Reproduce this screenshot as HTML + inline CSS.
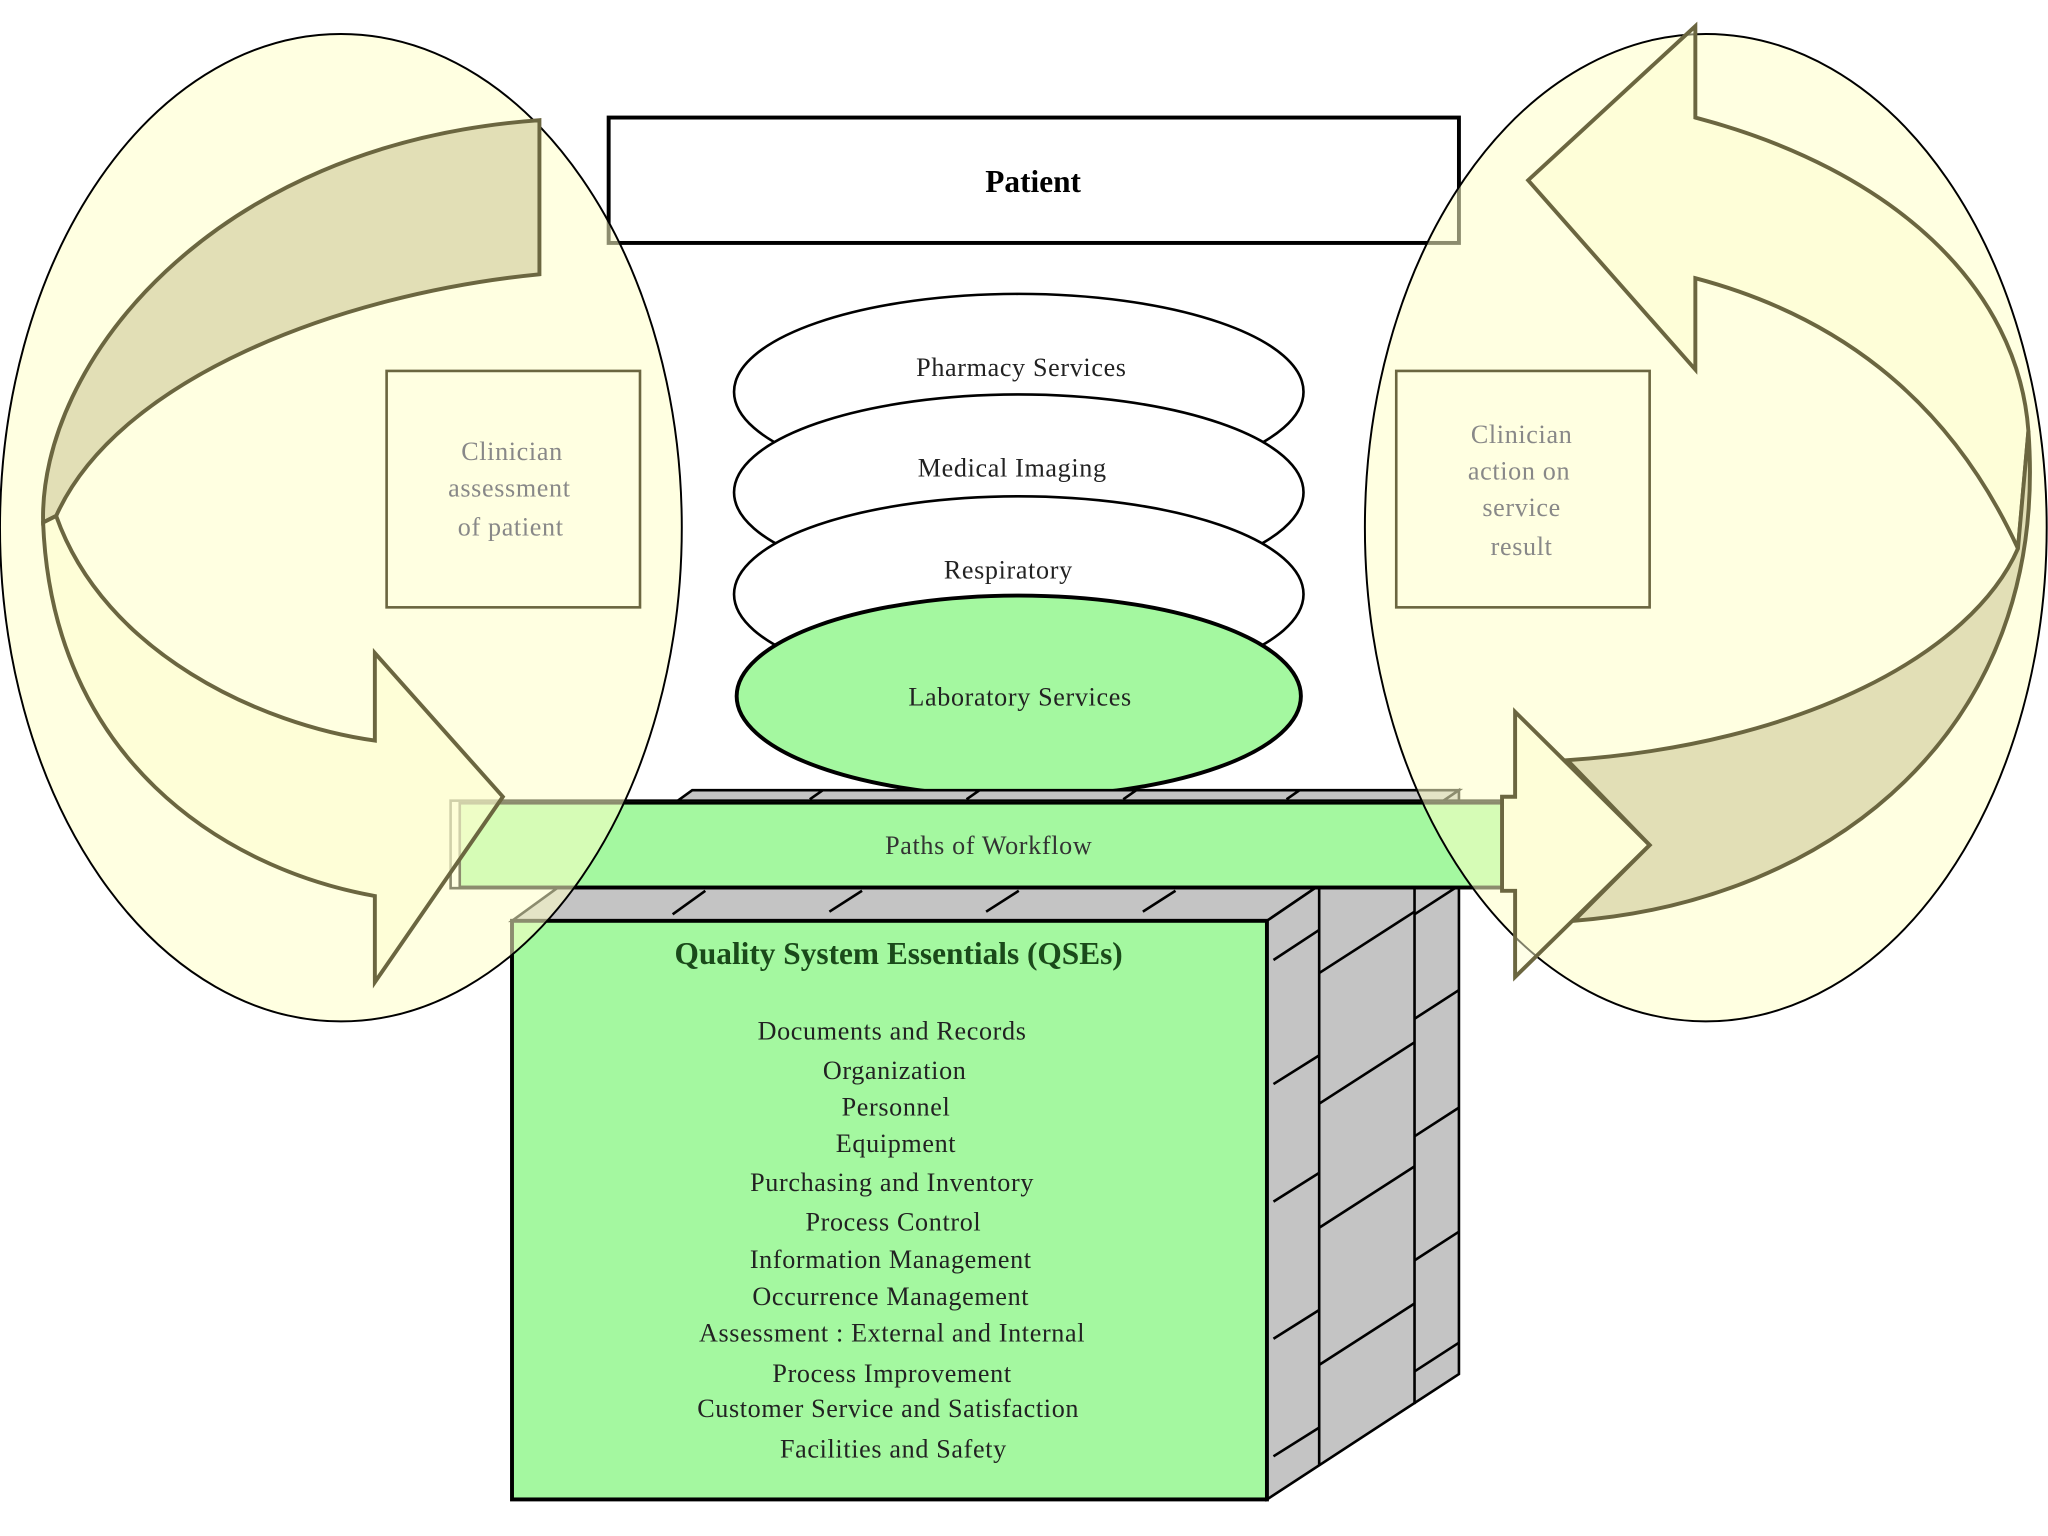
<!DOCTYPE html>
<html><head><meta charset="utf-8"><style>html,body{margin:0;padding:0;background:#fff}svg{display:block}</style></head><body>
<svg width="2048" height="1536" viewBox="0 0 1568 1176" preserveAspectRatio="none" xmlns="http://www.w3.org/2000/svg" font-family="'Liberation Serif', serif">
<rect width="1568" height="1176" fill="#fff"/>
<rect x="466" y="90" width="651" height="96" fill="#fff" stroke="#000" stroke-width="3"/>
<text x="791" y="147" font-size="24" font-weight="bold" text-anchor="middle">Patient</text>
<g stroke="#000" stroke-width="2">
<ellipse cx="780" cy="300" rx="218" ry="75" fill="#fff"/>
<ellipse cx="780" cy="377" rx="218" ry="75" fill="#fff"/>
<ellipse cx="780" cy="455" rx="218" ry="75" fill="#fff"/>
<ellipse cx="780" cy="533" rx="216" ry="77" fill="#a4f8a0" stroke-width="3"/>
</g>
<g font-size="20" text-anchor="middle" fill="#222" letter-spacing="0.5">
<text x="782" y="288">Pharmacy Services</text>
<text x="775" y="365">Medical Imaging</text>
<text x="772" y="443">Respiratory</text>
<text x="781" y="540">Laboratory Services</text>
</g>
<polygon points="392,705 970,705 1117,605 530,605" fill="#c4c4c4" stroke="#000" stroke-width="2"/>
<polygon points="970,705 1117,605 1117,1052 970,1148" fill="#c4c4c4" stroke="#000" stroke-width="2"/>
<g stroke="#000" stroke-width="2">
<line x1="1010" y1="680" x2="1010" y2="1122"/><line x1="1083" y1="630" x2="1083" y2="1075"/>
<line x1="975" y1="735" x2="1010" y2="712"/><line x1="1010" y1="745" x2="1083" y2="698"/><line x1="1083" y1="700" x2="1117" y2="678"/>
<line x1="975" y1="830" x2="1010" y2="808"/><line x1="1010" y1="845" x2="1083" y2="798"/><line x1="1083" y1="780" x2="1117" y2="758"/>
<line x1="975" y1="920" x2="1010" y2="898"/><line x1="1010" y1="940" x2="1083" y2="893"/><line x1="1083" y1="870" x2="1117" y2="848"/>
<line x1="975" y1="1025" x2="1010" y2="1003"/><line x1="1010" y1="1045" x2="1083" y2="998"/><line x1="1083" y1="965" x2="1117" y2="943"/>
<line x1="975" y1="1115" x2="1010" y2="1093"/><line x1="1083" y1="1050" x2="1117" y2="1028"/>
<line x1="515" y1="700" x2="540" y2="682"/><line x1="635" y1="698" x2="660" y2="682"/><line x1="755" y1="698" x2="780" y2="682"/><line x1="875" y1="698" x2="900" y2="682"/>
<line x1="620" y1="612" x2="630" y2="605"/><line x1="740" y1="612" x2="750" y2="605"/><line x1="860" y1="612" x2="870" y2="605"/><line x1="985" y1="612" x2="995" y2="605"/>
</g>
<rect x="392" y="705" width="578" height="443" fill="#a4f8a0" stroke="#000" stroke-width="3"/>
<text x="688" y="738" font-size="24" font-weight="bold" text-anchor="middle" fill="#1a4a1a">Quality System Essentials  (QSEs)</text>
<g font-size="20" text-anchor="middle" fill="#222" letter-spacing="0.5">
<text x="683" y="796">Documents and Records</text>
<text x="685" y="826">Organization</text>
<text x="686" y="854">Personnel</text>
<text x="686" y="882">Equipment</text>
<text x="683" y="912">Purchasing and Inventory</text>
<text x="684" y="942">Process Control</text>
<text x="682" y="971">Information Management</text>
<text x="682" y="999">Occurrence Management</text>
<text x="683" y="1027">Assessment : External and Internal</text>
<text x="683" y="1058">Process Improvement</text>
<text x="680" y="1085">Customer Service and Satisfaction</text>
<text x="684" y="1116">Facilities and Safety</text>
</g>
<rect x="345" y="613" width="805" height="67" fill="#fff" stroke="#000" stroke-width="2"/>
<rect x="352" y="615" width="798" height="64" fill="#a4f8a0" stroke="#000" stroke-width="2"/>
<text x="757" y="654" font-size="20" text-anchor="middle" fill="#333" letter-spacing="0.5">Paths of Workflow</text>
<ellipse cx="261" cy="404" rx="261" ry="378" fill="#ffffc8" fill-opacity="0.55" stroke="#000" stroke-width="1.5"/>
<ellipse cx="1306" cy="404" rx="261" ry="378" fill="#ffffc8" fill-opacity="0.55" stroke="#000" stroke-width="1.5"/>
<g stroke="#6b6640" stroke-width="3">
<path d="M413,92 L413,210 C260,225 90,290 43,395 L33,400 C30,280 160,110 413,92 Z" fill="#e2dfb6"/>
<path d="M43,395 C80,500 200,555 287,567 L287,500 L385,610 L287,752 L287,686 C170,665 40,580 33,400 Z" fill="#fdfdd0" fill-opacity="0.6"/>
<path d="M1298,20 L1298,90 C1450,130 1545,220 1553,330 L1545,420 C1490,300 1400,240 1298,213 L1298,283 L1170,138 Z" fill="#fdfdd0" fill-opacity="0.5"/>
<path d="M1553,330 C1570,560 1400,690 1205,705 L1263,647 L1200,582 C1380,570 1510,500 1545,420 Z" fill="#e2dfb6"/>
<path d="M1160,545 L1263,647 L1160,748 L1160,682 L1150,682 L1150,610 L1160,610 Z" fill="#fdfdd0" fill-opacity="0.5"/>
</g>
<rect x="296" y="284" width="194" height="181" fill="none" stroke="#6b6640" stroke-width="2"/>
<rect x="1069" y="284" width="194" height="181" fill="none" stroke="#6b6640" stroke-width="2"/>
<g font-size="20" text-anchor="middle" fill="#888" letter-spacing="0.5">
<text x="392" y="352">Clinician</text><text x="390" y="380">assessment</text><text x="391" y="410">of patient</text>
<text x="1165" y="339">Clinician</text><text x="1163" y="367">action on</text><text x="1165" y="395">service</text><text x="1165" y="425">result</text>
</g>
</svg>
</body></html>
